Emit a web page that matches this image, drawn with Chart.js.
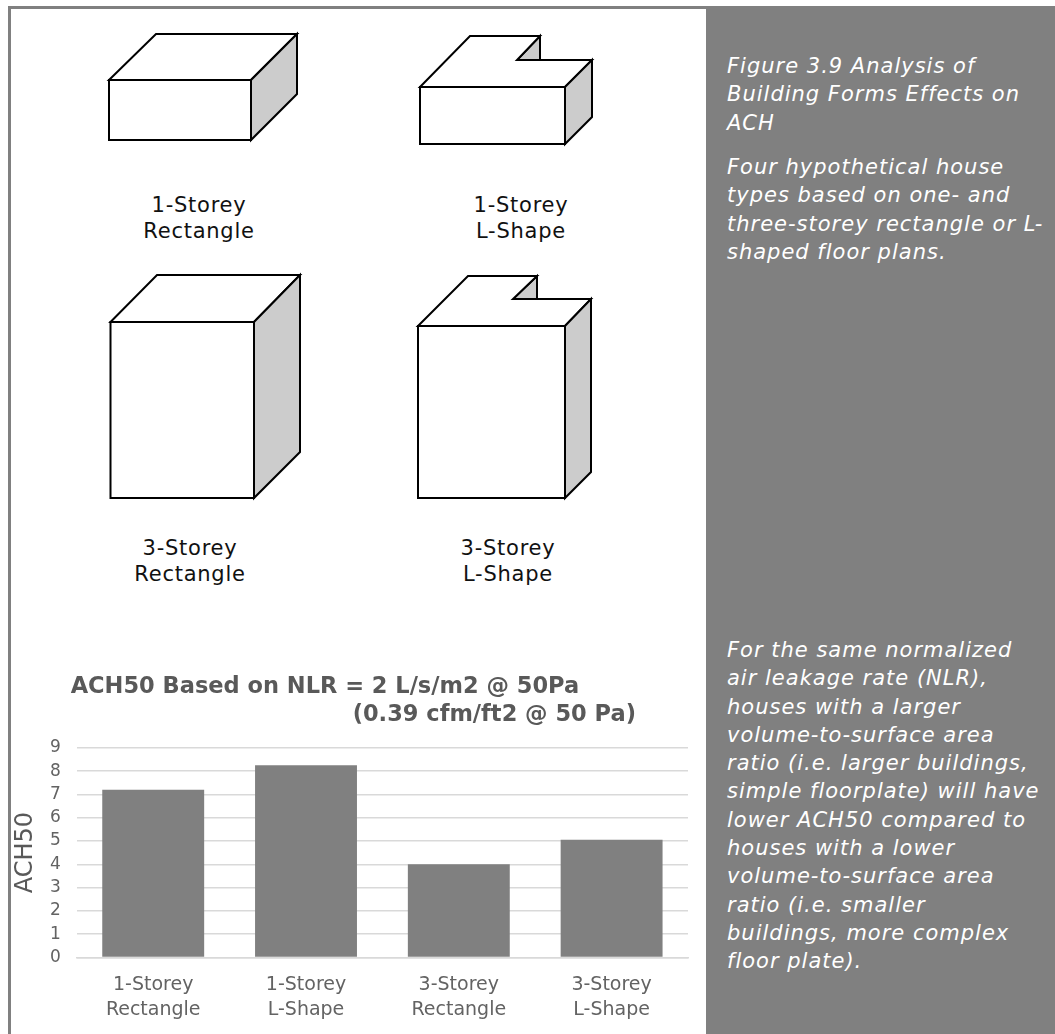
<!DOCTYPE html>
<html>
<head>
<meta charset="utf-8">
<script src="https://cdn.jsdelivr.net/npm/chart.js@4"></script>
<style>
  html, body { margin: 0; padding: 0; background: #fff; }
  body { position: relative; width: 1055px; height: 1034px; overflow: hidden; font-family: "DejaVu Sans", sans-serif; }
  .bar { position: absolute; background: #808080; }
  .note { position: absolute; left: 727px; color: #fff; font-style: italic; font-size: 21px; letter-spacing: 1px; line-height: 28.3px; white-space: nowrap; }
  .label { position: absolute; width: 200px; text-align: center; color: #111; font-size: 21px; letter-spacing: 0.75px; line-height: 26.3px; }
  #houses { position: absolute; left: 0; top: 0; }
  #houses polygon { stroke: #000; stroke-width: 2; stroke-linejoin: miter; fill: #fff; }
  #houses polygon.side { fill: #ccc; }
  #wrap { position: absolute; left: 8px; top: 656px; width: 698px; height: 378px; }
</style>
</head>
<body>
<div class="bar" style="left:8px;top:6px;width:698px;height:3px"></div>
<div class="bar" style="left:8px;top:6px;width:3px;height:650px"></div>
<div class="bar" style="left:706px;top:6px;width:349px;height:1028px"></div>

<svg id="houses" width="706" height="640">
  <!-- 1-storey rectangle -->
  <polygon points="109,80 156,34 297,34 251,80"/>
  <polygon class="side" points="251,80 297,34 297,94 251,140"/>
  <polygon points="109,80 251,80 251,140 109,140"/>
  <!-- 1-storey L -->
  <polygon class="side" points="517,60 540,36 540,60"/>
  <polygon points="420,87 470,36 540,36 517,60 592,60 565,87"/>
  <polygon class="side" points="565,87 592,60 592,117 565,144"/>
  <polygon points="420,87 565,87 565,144 420,144"/>
  <!-- 3-storey rectangle -->
  <polygon points="110.5,322 157,275 300,275 254,322"/>
  <polygon class="side" points="254,322 300,275 300,452 254,498"/>
  <polygon points="110.5,322 254,322 254,498 110.5,498"/>
  <!-- 3-storey L -->
  <polygon class="side" points="513,299 537,276 537,299"/>
  <polygon points="418,326 468,276 537,276 513,299 591,299 565,326"/>
  <polygon class="side" points="565,326 591,299 591,472 565,498"/>
  <polygon points="418,326 565,326 565,498 418,498"/>
</svg>

<div class="label" style="left:99px;top:192px">1-Storey<br>Rectangle</div>
<div class="label" style="left:421px;top:192px">1-Storey<br>L-Shape</div>
<div class="label" style="left:90px;top:535px">3-Storey<br>Rectangle</div>
<div class="label" style="left:408px;top:535px">3-Storey<br>L-Shape</div>

<div class="note" style="top:52px">Figure 3.9 Analysis of<br>Building Forms Effects on<br>ACH</div>
<div class="note" style="top:153px">Four hypothetical house<br>types based on one- and<br>three-storey rectangle or L-<br>shaped floor plans.</div>
<div class="note" style="top:636px">For the same normalized<br>air leakage rate (NLR),<br>houses with a larger<br>volume-to-surface area<br>ratio (i.e. larger buildings,<br>simple floorplate) will have<br>lower ACH50 compared to<br>houses with a lower<br>volume-to-surface area<br>ratio (i.e. smaller<br>buildings, more complex<br>floor plate).</div>

<div id="wrap"><canvas id="achChart"></canvas></div>
<div class="bar" style="left:8px;top:656px;width:2.5px;height:378px"></div>

<script>
const categories = [['1-Storey', 'Rectangle'], ['1-Storey', 'L-Shape'], ['3-Storey', 'Rectangle'], ['3-Storey', 'L-Shape']];
const ach50 = [7.2, 8.25, 4.0, 5.05];
const yTicks = [0, 1, 2, 3, 4, 5, 6, 7, 8, 9];
const chartTitle = [
  '        ACH50 Based on NLR = 2 L/s/m2 @ 50Pa',
  '                                            (0.39 cfm/ft2 @ 50 Pa)'
];

const textGrey = '#595959';
const tickGrey = '#636363';
const gridGrey = '#d9d9d9';

new Chart(document.getElementById('achChart'), {
  type: 'bar',
  data: {
    labels: categories,
    datasets: [{
      label: 'ACH50',
      data: ach50,
      backgroundColor: '#808080',
      categoryPercentage: 0.667,
      barPercentage: 1
    }]
  },
  options: {
    responsive: true,
    maintainAspectRatio: false,
    animation: false,
    layout: { padding: { left: 0, right: 18, top: 0, bottom: 4.5 } },
    plugins: {
      legend: { display: false },
      tooltip: { enabled: false },
      title: {
        display: true,
        text: chartTitle,
        align: 'start',
        color: textGrey,
        font: { family: '"DejaVu Sans"', size: 22.5, weight: 'bold', lineHeight: 1.24 },
        padding: { top: 17, bottom: 19 }
      }
    },
    scales: {
      x: {
        grid: { display: false },
        border: { color: gridGrey, width: 1.5 },
        ticks: { color: tickGrey, font: { family: '"DejaVu Sans"', size: 19, lineHeight: 1.316 }, maxRotation: 0, padding: 7 }
      },
      y: {
        min: 0,
        max: 9,
        afterBuildTicks: axis => { axis.ticks = yTicks.map(value => ({ value })); },
        title: { display: true, text: 'ACH50', color: textGrey, font: { family: '"DejaVu Sans"', size: 24, lineHeight: 1 }, padding: { top: 6, bottom: -4 } },
        grid: { color: gridGrey, lineWidth: 1.5, drawTicks: false },
        border: { display: false },
        ticks: { color: tickGrey, font: { family: '"DejaVu Sans"', size: 17 }, padding: 16, autoSkip: false }
      }
    }
  }
});
</script>
</body>
</html>
